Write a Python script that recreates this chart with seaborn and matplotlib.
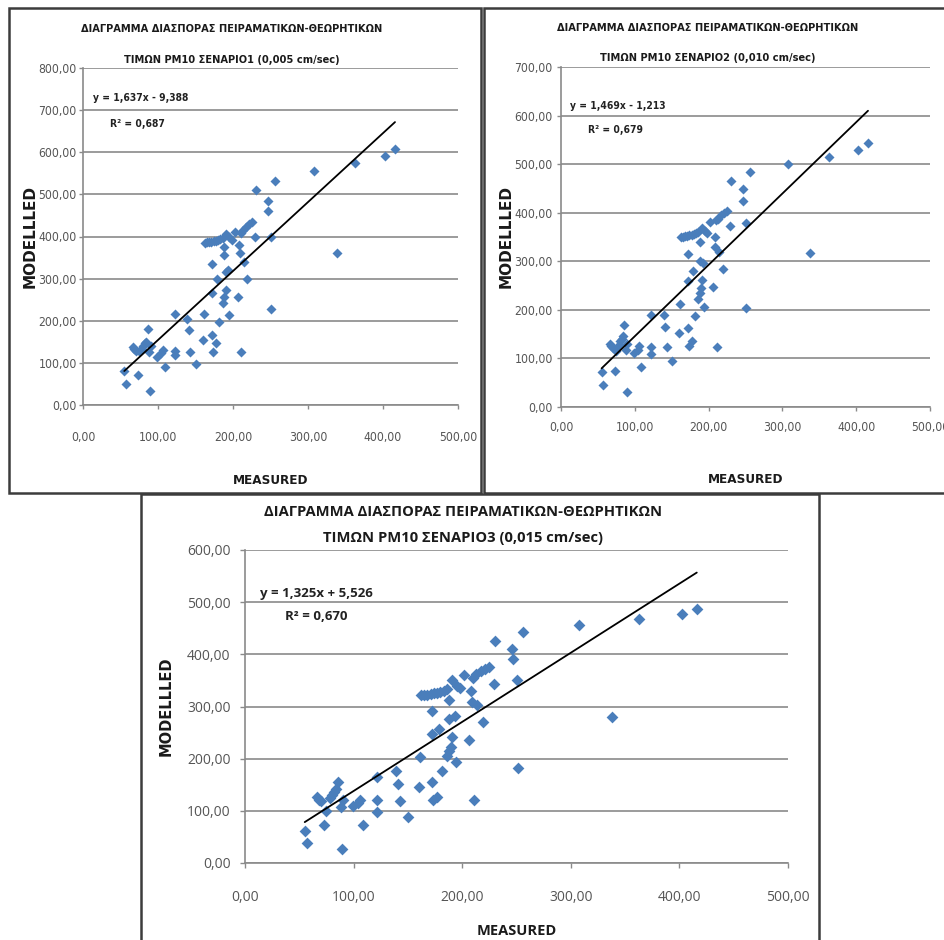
import matplotlib
matplotlib.use("Agg")
import matplotlib.pyplot as plt
from matplotlib.patches import Rectangle
import matplotlib.font_manager as fm
import seaborn as sns
import pandas as pd

# ---- data -------------------------------------------------------------
measured = [55, 57, 66, 68, 70, 73, 75, 78, 80, 82, 84, 86, 88, 89, 90,
            99, 104, 106, 109, 122, 122, 122, 139, 141, 143, 150, 160, 161,
            162, 165, 168, 171, 174, 177, 180, 183, 186,
            172, 172, 172, 173, 177, 179, 181, 186, 188, 190, 191, 188, 193,
            194, 188, 191, 195, 198, 202, 206, 208, 209, 211, 214, 219,
            210, 213, 217, 221, 225, 229, 230, 246, 247, 250, 251, 256,
            308, 338, 363, 402, 416]

modelled_s1 = [81, 51, 137, 132, 128, 72, 128, 133, 140, 146, 150, 180, 125, 34, 140,
               115, 124, 130, 90, 216, 128, 118, 205, 178, 127, 97, 155, 216,
               385, 386, 387, 388, 389, 390, 392, 394, 397,
               335, 265, 166, 127, 146, 300, 198, 241, 256, 273, 316, 356, 320,
               214, 375, 405, 398, 392, 410, 257, 380, 360, 127, 340, 300,
               408, 415, 422, 430, 435, 400, 510, 485, 460, 400, 227, 532,
               555, 360, 575, 592, 608]

modelled_s2 = [72, 45, 130, 125, 121, 75, 115, 128, 135, 140, 146, 168, 118, 30, 130,
               112, 118, 125, 82, 190, 123, 110, 190, 165, 123, 94, 152, 212,
               350, 351, 352, 353, 354, 355, 357, 359, 361,
               315, 260, 162, 125, 135, 280, 188, 222, 235, 245, 262, 300, 297,
               205, 340, 368, 362, 358, 380, 248, 350, 330, 124, 320, 285,
               385, 388, 395, 400, 403, 372, 465, 448, 425, 378, 203, 484,
               500, 318, 515, 530, 543]

modelled_s3 = [62, 38, 126, 121, 118, 72, 100, 124, 130, 136, 142, 155, 107, 26, 120,
               110, 115, 120, 73, 165, 120, 98, 176, 152, 119, 88, 146, 203,
               322, 322, 323, 324, 325, 326, 328, 330, 333,
               292, 248, 156, 120, 126, 257, 176, 206, 214, 222, 241, 276, 282,
               194, 312, 350, 340, 336, 360, 235, 330, 308, 120, 302, 270,
               355, 362, 368, 372, 376, 344, 426, 410, 392, 351, 182, 442,
               457, 280, 468, 478, 487]

slopes = [1.637, 1.469, 1.325]
intercepts = [-9.388, -1.213, 5.526]
r_squared = [0.687, 0.679, 0.670]

y_ticks = [[0, 100, 200, 300, 400, 500, 600, 700, 800],
           [0, 100, 200, 300, 400, 500, 600, 700],
           [0, 100, 200, 300, 400, 500, 600]]
x_ticks = [0, 100, 200, 300, 400, 500]

title_line1 = "ΔΙΑΓΡΑΜΜΑ ΔΙΑΣΠΟΡΑΣ ΠΕΙΡΑΜΑΤΙΚΩΝ-ΘΕΩΡΗΤΙΚΩΝ"
title_line2 = ["ΤΙΜΩΝ PM10 ΣΕΝΑΡΙΟ1 (0,005 cm/sec)",
               "ΤΙΜΩΝ PM10 ΣΕΝΑΡΙΟ2 (0,010 cm/sec)",
               "ΤΙΜΩΝ PM10 ΣΕΝΑΡΙΟ3 (0,015 cm/sec)"]
x_label = "MEASURED"
y_label = "MODELLLED"

# ---- style ------------------------------------------------------------
sns.set_theme(style="white")
plt.rcParams["font.family"] = ["DejaVu Sans"]

faces = [(f.name, f.stretch) for f in fm.fontManager.ttflist]
names = {n for n, _ in faces}

# a narrow face for the two small charts
if "Liberation Sans Narrow" in names:
    NARROW = dict(fontfamily=["Liberation Sans Narrow", "DejaVu Sans"])
    nscale = 1.0
elif any(n == "DejaVu Sans" and s in ("condensed", "semi-condensed") for n, s in faces):
    NARROW = dict(fontfamily=["DejaVu Sans"], fontstretch="condensed")
    nscale = 0.92
else:
    NARROW = dict(fontfamily=["Liberation Sans", "DejaVu Sans"])
    nscale = 0.84
WIDE = dict(fontfamily=["Open Sans", "DejaVu Sans"])
LABEL = dict(fontfamily=["DejaVu Sans"])

MARKER = "#4a7ebb"
GRID = "#8a8a8a"
TICKTXT = "#555555"
FRAME = "#3c3c3c"

W, H = 944, 940
fig = plt.figure(figsize=(W / 100, H / 100), dpi=100)
fig.patch.set_facecolor("white")


def fmt(v):
    return f"{v:.2f}".replace(".", ",")


def eq_text(m, b):
    sign = "-" if b < 0 else "+"
    return f"y = {m:.3f}x {sign} {abs(b):.3f}".replace(".", ",")


panels = [
    dict(ax=(83, 68, 458, 405), frame=(9, 8, 481, 493), title_x=232, title_y=(29, 60),
         eq=(93, 98), r2=(110, 124), ylab_x=30, xlab_y=480, font=NARROW,
         tick_fs=9.5 * nscale, title_fs=8.6 * nscale, eq_fs=8.0 * nscale,
         xlab_fs=10.5 * nscale, ylab_fs=11,
         ypad=1.5, xpad=16, s=26, tlen=3),
    dict(ax=(561, 67, 930, 407), frame=(484, 8, 952, 493), title_x=708, title_y=(28, 58),
         eq=(570, 106), r2=(588, 130), ylab_x=506, xlab_y=480, font=NARROW,
         tick_fs=9.5 * nscale, title_fs=8.6 * nscale, eq_fs=8.0 * nscale,
         xlab_fs=10.5 * nscale, ylab_fs=11,
         ypad=3, xpad=7, s=26, tlen=3),
    dict(ax=(245, 550, 788, 863), frame=(141, 494, 819, 952), title_x=463, title_y=(512, 538),
         eq=(260, 594), r2=(285, 617), ylab_x=166, xlab_y=931, font=WIDE,
         tick_fs=10, title_fs=10.6, eq_fs=9.5, xlab_fs=10.5, ylab_fs=10.5,
         ypad=7, xpad=16, s=36, tlen=3.5),
]

series = [modelled_s1, modelled_s2, modelled_s3]

for i, p in enumerate(panels):
    L, T, R, B = p["ax"]
    font = p["font"]
    ax = fig.add_axes([L / W, 1 - B / H, (R - L) / W, (B - T) / H])
    ax.set_facecolor("white")

    df = pd.DataFrame({"measured": measured, "modelled": series[i]})
    sns.scatterplot(data=df, x="measured", y="modelled", ax=ax, marker="D",
                    s=p["s"], color=MARKER, edgecolor=MARKER, linewidth=0,
                    zorder=3, legend=False)

    # linear trend line from the stated equation
    x0, x1 = min(measured), max(measured)
    ax.plot([x0, x1], [slopes[i] * x0 + intercepts[i], slopes[i] * x1 + intercepts[i]],
            color="black", lw=1.3, zorder=4)

    ax.set_xlim(0, 500)
    ax.set_ylim(0, y_ticks[i][-1])
    ax.set_xticks(x_ticks, labels=[fmt(v) for v in x_ticks],
                  fontsize=p["tick_fs"], color=TICKTXT, **font)
    ax.set_yticks(y_ticks[i], labels=[fmt(v) for v in y_ticks[i]],
                  fontsize=p["tick_fs"], color=TICKTXT, **font)
    ax.tick_params(axis="y", direction="out", length=p["tlen"], width=1, color=GRID,
                   pad=p["ypad"], left=True)
    ax.tick_params(axis="x", direction="out", length=p["tlen"], width=1, color=GRID,
                   pad=p["xpad"], bottom=True)
    ax.grid(axis="y", color=GRID, lw=1.2)
    ax.grid(axis="x", visible=False)
    ax.set_axisbelow(True)
    for side in ("top", "right"):
        ax.spines[side].set_visible(False)
    for side in ("left", "bottom"):
        ax.spines[side].set_color(GRID)
        ax.spines[side].set_linewidth(1.2)

    ax.set_xlabel(x_label, fontweight="bold", fontsize=p["xlab_fs"],
                  color="#1a1a1a", va="center", **font)
    ax.xaxis.set_label_coords(0.5, (B - p["xlab_y"]) / (B - T))
    ax.set_ylabel(y_label, fontweight="bold", fontsize=p["ylab_fs"],
                  color="#1a1a1a", va="center", **LABEL)
    ax.yaxis.set_label_coords((p["ylab_x"] - L) / (R - L), 0.5)

    ex, ey = p["eq"]
    ax.text((ex - L) / (R - L), (B - ey) / (B - T), eq_text(slopes[i], intercepts[i]),
            transform=ax.transAxes, ha="left", va="center",
            fontweight="bold", fontsize=p["eq_fs"], color="#222222", **font)
    rx, ry = p["r2"]
    ax.text((rx - L) / (R - L), (B - ry) / (B - T), f"R² = {r_squared[i]:.3f}".replace(".", ","),
            transform=ax.transAxes, ha="left", va="center",
            fontweight="bold", fontsize=p["eq_fs"], color="#222222", **font)

    ty1, ty2 = p["title_y"]
    fig.text(p["title_x"] / W, 1 - ty1 / H, title_line1, ha="center", va="center",
             fontweight="bold", fontsize=p["title_fs"], color="#1a1a1a", **font)
    fig.text(p["title_x"] / W, 1 - ty2 / H, title_line2[i], ha="center", va="center",
             fontweight="bold", fontsize=p["title_fs"], color="#1a1a1a", **font)

    fx0, fy0, fx1, fy1 = p["frame"]
    fig.add_artist(Rectangle((fx0 / W, 1 - fy1 / H), (fx1 - fx0) / W, (fy1 - fy0) / H,
                             transform=fig.transFigure, fill=False, edgecolor=FRAME,
                             lw=1.8, zorder=10))

fig.savefig("out.png", dpi=100, facecolor="white")
